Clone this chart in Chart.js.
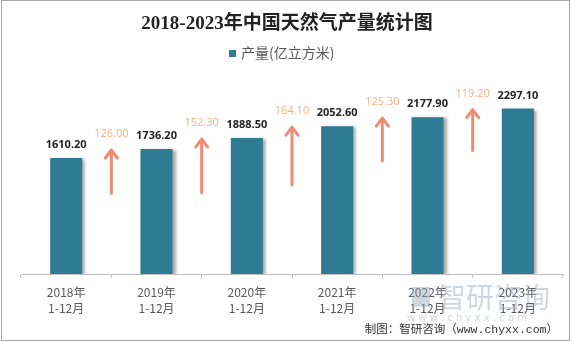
<!DOCTYPE html>
<html>
<head>
<meta charset="utf-8">
<script src="https://cdn.jsdelivr.net/npm/chart.js@4/dist/chart.umd.min.js"></script>
<style>
  body { margin: 0; background: #fff; }
  #wrap { position: relative; width: 572px; height: 342px; }
</style>
</head>
<body>
<div id="wrap"><canvas id="gasChart"></canvas></div>
<script>
// 数据
const years = ['2018年', '2019年', '2020年', '2021年', '2022年', '2023年'];
const periodLabel = '1-12月';
const production = [1610.2, 1736.2, 1888.5, 2052.6, 2177.9, 2297.1]; // 亿立方米
const growth = [126.0, 152.3, 164.1, 125.3, 119.2]; // 较上年增量
const arrowBase = [1120, 1130, 1235, 1570, 1715]; // 箭头起点 (估计值)

const barColor = '#2E7B93';
const arrowColor = '#EE8B74';
const growthColor = '#F4B183';

// 柱子阴影
const shadowPlugin = {
    id: 'barShadow',
    beforeDatasetDraw(chart) {
        const ctx = chart.ctx;
        ctx.save();
        ctx.shadowColor = 'rgba(0,0,0,0.35)';
        ctx.shadowOffsetX = 3;
        ctx.shadowOffsetY = 1;
        ctx.shadowBlur = 3;
    },
    afterDatasetDraw(chart) {
        chart.ctx.restore();
    }
};

// 数值标签和增长箭头
const markPlugin = {
    id: 'marks',
    afterDatasetsDraw(chart) {
        const ctx = chart.ctx;
        const x = chart.scales.x;
        const y = chart.scales.y;
        const meta = chart.getDatasetMeta(0);

        ctx.save();
        ctx.textAlign = 'center';
        ctx.textBaseline = 'middle';
        ctx.font = 'bold 11px "Open Sans", "DejaVu Sans", sans-serif';
        ctx.fillStyle = '#222';
        meta.data.forEach((bar, i) => {
            ctx.fillText(production[i].toFixed(2), bar.x, bar.y - 13);
        });

        growth.forEach((g, i) => {
            const ax = (x.getPixelForValue(i) + x.getPixelForValue(i + 1)) / 2;
            const top = y.getPixelForValue(production[i + 1]);
            const bottom = y.getPixelForValue(arrowBase[i]);
            ctx.strokeStyle = arrowColor;
            ctx.lineWidth = 3;
            ctx.lineCap = 'round';
            ctx.lineJoin = 'round';
            ctx.beginPath();
            ctx.moveTo(ax, bottom);
            ctx.lineTo(ax, top + 1);
            ctx.moveTo(ax - 6, top + 9);
            ctx.lineTo(ax, top + 1);
            ctx.lineTo(ax + 6, top + 9);
            ctx.stroke();

            ctx.font = '11px "Open Sans", sans-serif';
            ctx.fillStyle = growthColor;
            ctx.fillText(g.toFixed(2), ax, top - 15);
        });
        ctx.restore();
    },
    afterDraw(chart) {
        const ctx = chart.ctx;
        ctx.save();
        // 标题
        ctx.textAlign = 'center';
        ctx.textBaseline = 'middle';
        ctx.fillStyle = '#222';
        ctx.font = 'bold 19px "Liberation Serif", "Noto Sans CJK SC", serif';
        ctx.fillText('2018-2023年中国天然气产量统计图', 287, 24);

        // 图例
        ctx.fillStyle = barColor;
        ctx.fillRect(229, 50, 7, 7);
        ctx.fillStyle = '#595959';
        ctx.textAlign = 'left';
        ctx.font = '14px "Noto Sans CJK SC", sans-serif';
        ctx.fillText('产量(亿立方米)', 241, 53);

        // 水印
        ctx.fillStyle = 'rgba(150,165,185,0.45)';
        ctx.font = '28px "Noto Sans CJK SC", sans-serif';
        ctx.fillText('智研咨询', 438, 297);
        ctx.fillRect(412, 287, 18, 20);
        ctx.font = '10px "DejaVu Sans", sans-serif';
        ctx.fillText('w w w . c h y x x . c o m', 407, 318);

        // 来源
        ctx.fillStyle = '#333';
        ctx.textAlign = 'right';
        ctx.font = '11.5px "Liberation Mono", "Noto Sans CJK SC", monospace';
        ctx.fillText('制图：智研咨询（www.chyxx.com）', 558, 330);

        // 边框
        ctx.strokeStyle = '#A6A6A6';
        ctx.lineWidth = 1;
        ctx.strokeRect(1.5, 0.5, 568, 340);
        ctx.restore();
    }
};

const ctx = document.getElementById('gasChart').getContext('2d');
new Chart(ctx, {
    type: 'bar',
    data: {
        labels: years.map(yr => [yr, periodLabel]),
        datasets: [{
            label: '产量(亿立方米)',
            data: production,
            backgroundColor: barColor,
            categoryPercentage: 1,
            barPercentage: 0.355
        }]
    },
    options: {
        responsive: true,
        maintainAspectRatio: false,
        animation: false,
        layout: {
            padding: { top: 58, left: 21, right: 9, bottom: 0 }
        },
        plugins: {
            legend: { display: false },
            title: { display: false },
            tooltip: { enabled: false }
        },
        scales: {
            x: {
                afterFit(scale) { scale.height = 68; },
                grid: {
                    drawOnChartArea: false,
                    drawTicks: true,
                    tickLength: 4,
                    color: '#BFBFBF'
                },
                border: { color: '#BFBFBF' },
                ticks: {
                    color: '#595959',
                    maxRotation: 0,
                    padding: 6,
                    font: { size: 12, family: '"Noto Sans CJK SC", sans-serif', lineHeight: 1.35 }
                }
            },
            y: {
                display: false,
                min: 0,
                max: 3000
            }
        }
    },
    plugins: [shadowPlugin, markPlugin]
});
</script>
</body>
</html>
